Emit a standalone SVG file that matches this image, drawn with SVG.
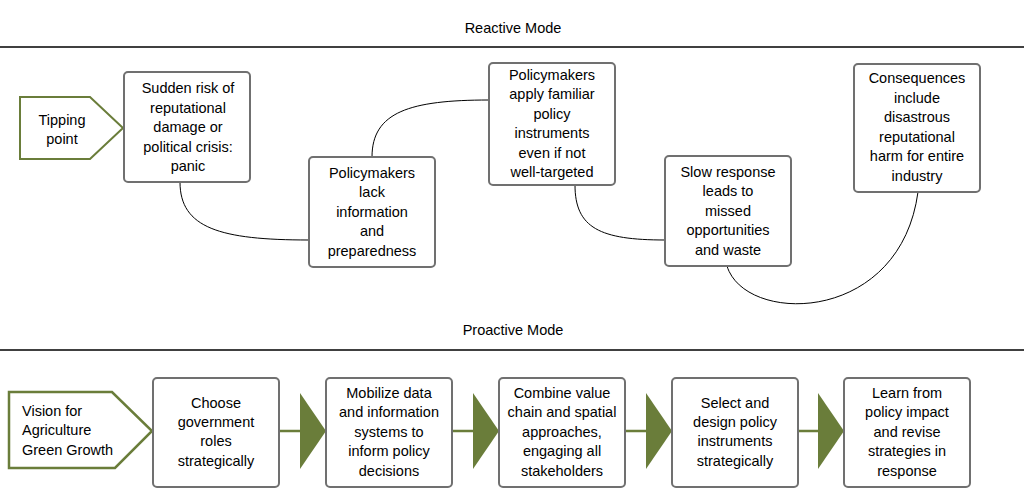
<svg xmlns="http://www.w3.org/2000/svg" width="1024" height="488" viewBox="0 0 1024 488">
<style>
text{font-family:"Liberation Sans",Arial,sans-serif;font-size:14.5px;fill:#000;text-anchor:middle}
.b{fill:#fff;stroke:#707070;stroke-width:2}
.p{fill:#fff;stroke:#6a7d3a;stroke-width:2}
.c{fill:none;stroke:#000;stroke-width:1}
.g{stroke:#6a7d3a;stroke-width:2.5}
.t{fill:#6a7d3a}
</style>
<rect width="1024" height="488" fill="#fff"/>
<text x="513" y="33">Reactive Mode</text>
<line x1="0" y1="47" x2="1024" y2="47" stroke="#000" stroke-width="1.5"/>
<text x="513" y="335">Proactive Mode</text>
<line x1="0" y1="350" x2="1024" y2="350" stroke="#000" stroke-width="1.5"/>
<g id="connectors">
<path class="c" d="M180 182 C180 228 220 240 309 240"/>
<path class="c" d="M372 157 C372 112 410 100 489 100"/>
<path class="c" d="M575 185 C575 228 600 240 665 240"/>
<path class="c" d="M727 266 C745 325 900 325 918 192"/>
<line class="g" x1="279" y1="431" x2="302" y2="431"/><polygon class="t" points="300,393 326,431 300,469"/>
<line class="g" x1="452" y1="431" x2="475" y2="431"/><polygon class="t" points="473,393 499,431 473,469"/>
<line class="g" x1="625" y1="431" x2="648" y2="431"/><polygon class="t" points="646,393 672,431 646,469"/>
<line class="g" x1="797" y1="431" x2="820" y2="431"/><polygon class="t" points="818,393 844,431 818,469"/>
</g>
<g id="tipping"><polygon class="p" points="20,97 90,97 123,128 90,159 20,159"/><text x="62" y="125">Tipping</text><text x="62" y="144">point</text></g>
<g id="r1"><rect class="b" x="124" y="72" width="126" height="110" rx="4"/><text x="188" y="93">Sudden risk of</text><text x="188" y="113">reputational</text><text x="188" y="132">damage or</text><text x="188" y="152">political crisis:</text><text x="188" y="171">panic</text></g>
<g id="r2"><rect class="b" x="309" y="157" width="126" height="110" rx="4"/><text x="372" y="178">Policymakers</text><text x="372" y="197">lack</text><text x="372" y="217">information</text><text x="372" y="236">and</text><text x="372" y="256">preparedness</text></g>
<g id="r3"><rect class="b" x="489" y="63" width="126" height="122" rx="4"/><text x="552" y="80">Policymakers</text><text x="552" y="99">apply familiar</text><text x="552" y="119">policy</text><text x="552" y="138">instruments</text><text x="552" y="158">even if not</text><text x="552" y="177">well-targeted</text></g>
<g id="r4"><rect class="b" x="665" y="156" width="126" height="110" rx="4"/><text x="728" y="177">Slow response</text><text x="728" y="196">leads to</text><text x="728" y="216">missed</text><text x="728" y="235">opportunities</text><text x="728" y="255">and waste</text></g>
<g id="r5"><rect class="b" x="854" y="64" width="126" height="128" rx="4"/><text x="917" y="83">Consequences</text><text x="917" y="103">include</text><text x="917" y="122">disastrous</text><text x="917" y="142">reputational</text><text x="917" y="161">harm for entire</text><text x="917" y="181">industry</text></g>
<g id="vision"><polygon class="p" points="9,392 112,392 152,431 115,468 9,468" style="stroke-width:2.5"/><text x="22" y="416" style="text-anchor:start">Vision for</text><text x="22" y="435" style="text-anchor:start">Agriculture</text><text x="22" y="455" style="text-anchor:start">Green Growth</text></g>
<g id="p1"><rect class="b" x="153" y="378" width="126" height="109" rx="4"/><text x="216" y="408">Choose</text><text x="216" y="427">government</text><text x="216" y="446">roles</text><text x="216" y="466">strategically</text></g>
<g id="p2"><rect class="b" x="326" y="378" width="126" height="109" rx="4"/><text x="389" y="398">Mobilize data</text><text x="389" y="417">and information</text><text x="389" y="437">systems to</text><text x="389" y="456">inform policy</text><text x="389" y="476">decisions</text></g>
<g id="p3"><rect class="b" x="499" y="378" width="126" height="109" rx="4"/><text x="562" y="398">Combine value</text><text x="562" y="417">chain and spatial</text><text x="562" y="437">approaches,</text><text x="562" y="456">engaging all</text><text x="562" y="476">stakeholders</text></g>
<g id="p4"><rect class="b" x="672" y="378" width="126" height="109" rx="4"/><text x="735" y="408">Select and</text><text x="735" y="427">design policy</text><text x="735" y="446">instruments</text><text x="735" y="466">strategically</text></g>
<g id="p5"><rect class="b" x="844" y="378" width="126" height="109" rx="4"/><text x="907" y="398">Learn from</text><text x="907" y="417">policy impact</text><text x="907" y="437">and revise</text><text x="907" y="456">strategies in</text><text x="907" y="476">response</text></g>
</svg>
